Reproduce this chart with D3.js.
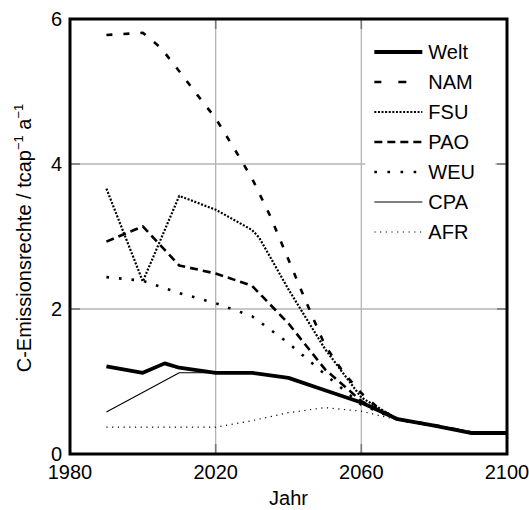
<!DOCTYPE html>
<html>
<head>
<meta charset="utf-8">
<script src="https://cdn.jsdelivr.net/npm/d3@7"></script>
<style>
  body { margin: 0; background: #fff; }
  text { font-family: "Liberation Sans", Arial, Helvetica, sans-serif; }
</style>
</head>
<body>
<svg id="chart" width="529" height="510"></svg>
<script>
// values (t C per capita and year)
var seriesNames = ["Welt", "NAM", "FSU", "PAO", "WEU", "CPA", "AFR"];

var weltYears = [1990, 2000, 2006, 2010, 2020, 2030, 2040, 2050, 2060, 2070, 2080, 2090, 2100];
var weltValues = [1.21, 1.12, 1.25, 1.19, 1.12, 1.12, 1.05, 0.88, 0.71, 0.48, 0.39, 0.29, 0.29];

var namYears = [1990, 2000, 2005, 2010, 2015, 2020, 2025, 2030, 2035, 2040, 2045, 2050, 2055, 2060, 2065, 2070, 2080, 2090, 2100];
var namValues = [5.78, 5.81, 5.6, 5.28, 4.95, 4.63, 4.22, 3.8, 3.28, 2.68, 2.08, 1.5, 1.13, 0.84, 0.62, 0.48, 0.4, 0.3, 0.3];

var fsuYears = [1990, 2000, 2010, 2020, 2030, 2032, 2040, 2050, 2060, 2070, 2080, 2090, 2100];
var fsuValues = [3.66, 2.38, 3.56, 3.37, 3.09, 2.98, 2.27, 1.45, 0.78, 0.48, 0.39, 0.3, 0.3];

var paoYears = [1990, 2000, 2010, 2020, 2030, 2040, 2050, 2060, 2070, 2080, 2090, 2100];
var paoValues = [2.93, 3.14, 2.6, 2.49, 2.32, 1.8, 1.17, 0.73, 0.48, 0.39, 0.3, 0.3];

var weuYears = [1990, 2000, 2010, 2020, 2030, 2040, 2050, 2060, 2070, 2080, 2090, 2100];
var weuValues = [2.44, 2.39, 2.22, 2.08, 1.9, 1.53, 1.1, 0.68, 0.47, 0.39, 0.3, 0.3];

var cpaYears = [1990, 2010, 2020, 2030, 2040, 2050, 2060, 2070, 2080, 2090, 2100];
var cpaValues = [0.58, 1.12, 1.12, 1.12, 1.05, 0.88, 0.71, 0.48, 0.39, 0.29, 0.29];

var afrYears = [1990, 2020, 2030, 2040, 2050, 2060, 2070, 2080, 2090, 2100];
var afrValues = [0.37, 0.37, 0.46, 0.57, 0.64, 0.59, 0.47, 0.39, 0.3, 0.3];

var xTicks = [1980, 2020, 2060, 2100];
var yTicks = [0, 2, 4, 6];

var styles = {
  Welt: { width: 3.8, dash: null, legendDash: null },
  NAM:  { width: 2.6, dash: "6,11", legendDash: "7,17,8,40" },
  FSU:  { width: 2.2, dash: "2,1.6", legendDash: "2,1.6" },
  PAO:  { width: 2.6, dash: "8,5", legendDash: "8,5" },
  WEU:  { width: 2.6, dash: "2.6,10", legendDash: "2.6,10.5" },
  CPA:  { width: 1.1, dash: null, legendDash: null },
  AFR:  { width: 1.2, dash: "1.2,4.5", legendDash: "1.2,4.5" }
};

function pairs(years, vals) {
  return years.map(function(y, i) { return { year: y, value: vals[i] }; });
}
var data = [
  { name: "Welt", values: pairs(weltYears, weltValues) },
  { name: "NAM", values: pairs(namYears, namValues) },
  { name: "FSU", values: pairs(fsuYears, fsuValues) },
  { name: "PAO", values: pairs(paoYears, paoValues) },
  { name: "WEU", values: pairs(weuYears, weuValues) },
  { name: "CPA", values: pairs(cpaYears, cpaValues) },
  { name: "AFR", values: pairs(afrYears, afrValues) }
];

var svg = d3.select("#chart"),
    margin = {top: 19, right: 22, bottom: 56, left: 70},
    width = 529 - margin.left - margin.right,
    height = 510 - margin.top - margin.bottom,
    g = svg.append("g").attr("transform", "translate(" + margin.left + "," + margin.top + ")");

var x = d3.scaleLinear().domain([1980, 2100]).range([0, width]),
    y = d3.scaleLinear().domain([0, 6]).range([height, 0]);

// grid
g.selectAll(".vgrid").data(xTicks.slice(1, -1)).enter().append("line")
  .attr("x1", function(d) { return x(d); }).attr("x2", function(d) { return x(d); })
  .attr("y1", 0).attr("y2", height)
  .attr("stroke", "#b4b4b4").attr("stroke-width", 1.3);
g.selectAll(".hgrid").data(yTicks.slice(1, -1)).enter().append("line")
  .attr("x1", 0).attr("x2", width)
  .attr("y1", function(d) { return y(d); }).attr("y2", function(d) { return y(d); })
  .attr("stroke", "#b4b4b4").attr("stroke-width", 1.3);

// legend background hides the grid behind it
var legend = g.append("g").attr("transform", "translate(" + (x(2060) + 4) + ",16)");
legend.append("rect").attr("width", 130).attr("height", 212).attr("fill", "#fff");

// inner ticks on all four sides
var tickLen = 10;
xTicks.slice(1, -1).forEach(function(t) {
  g.append("line").attr("x1", x(t)).attr("x2", x(t)).attr("y1", height).attr("y2", height - tickLen)
    .attr("stroke", "#777").attr("stroke-width", 1.6);
  g.append("line").attr("x1", x(t)).attr("x2", x(t)).attr("y1", 0).attr("y2", tickLen)
    .attr("stroke", "#777").attr("stroke-width", 1.6);
});
yTicks.slice(1, -1).forEach(function(t) {
  g.append("line").attr("x1", 0).attr("x2", tickLen).attr("y1", y(t)).attr("y2", y(t))
    .attr("stroke", "#777").attr("stroke-width", 1.6);
  g.append("line").attr("x1", width).attr("x2", width - tickLen).attr("y1", y(t)).attr("y2", y(t))
    .attr("stroke", "#777").attr("stroke-width", 1.6);
});

// lines
var line = d3.line()
  .x(function(d) { return x(d.year); })
  .y(function(d) { return y(d.value); });

// draw thin ones first so the heavy world line sits on top
var order = ["AFR", "CPA", "WEU", "PAO", "FSU", "NAM", "Welt"];
order.forEach(function(name) {
  var s = data.filter(function(d) { return d.name == name; })[0];
  var st = styles[name];
  g.append("path")
    .attr("d", line(s.values))
    .attr("fill", "none")
    .attr("stroke", "#000")
    .attr("stroke-width", st.width)
    .attr("stroke-dasharray", st.dash)
    .attr("stroke-linejoin", "round");
});

// frame
g.append("rect").attr("width", width).attr("height", height)
  .attr("fill", "none").attr("stroke", "#000").attr("stroke-width", 3);

// legend entries
seriesNames.forEach(function(name, i) {
  var st = styles[name];
  var yy = 17 + i * 30;
  legend.append("line")
    .attr("x1", 9).attr("x2", 57).attr("y1", yy).attr("y2", yy)
    .attr("stroke", "#000").attr("stroke-width", st.width)
    .attr("stroke-dasharray", st.legendDash);
  legend.append("text")
    .attr("x", 63).attr("y", yy).attr("dy", "0.36em")
    .attr("font-size", 20).text(name);
});

// tick labels
g.selectAll(".xlab").data(xTicks).enter().append("text")
  .attr("x", function(d) { return x(d); })
  .attr("y", height + 25)
  .attr("text-anchor", "middle")
  .attr("font-size", 20)
  .text(function(d) { return d; });
g.selectAll(".ylab").data(yTicks).enter().append("text")
  .attr("x", -8)
  .attr("y", function(d) { return y(d); })
  .attr("dy", "0.36em")
  .attr("text-anchor", "end")
  .attr("font-size", 20)
  .text(function(d) { return d; });

// axis titles
g.append("text")
  .attr("x", width / 2)
  .attr("y", height + 51)
  .attr("text-anchor", "middle")
  .attr("font-size", 20)
  .text("Jahr");

var yt = svg.append("text")
  .attr("transform", "translate(31," + 238 + ") rotate(-90)")
  .attr("text-anchor", "middle")
  .attr("font-size", 20);
yt.append("tspan").text("C-Emissionsrechte / tcap");
yt.append("tspan").attr("dy", -8).attr("font-size", 13).text("\u22121");
yt.append("tspan").attr("dy", 8).text(" a");
yt.append("tspan").attr("dy", -8).attr("font-size", 13).text("\u22121");
</script>
</body>
</html>
